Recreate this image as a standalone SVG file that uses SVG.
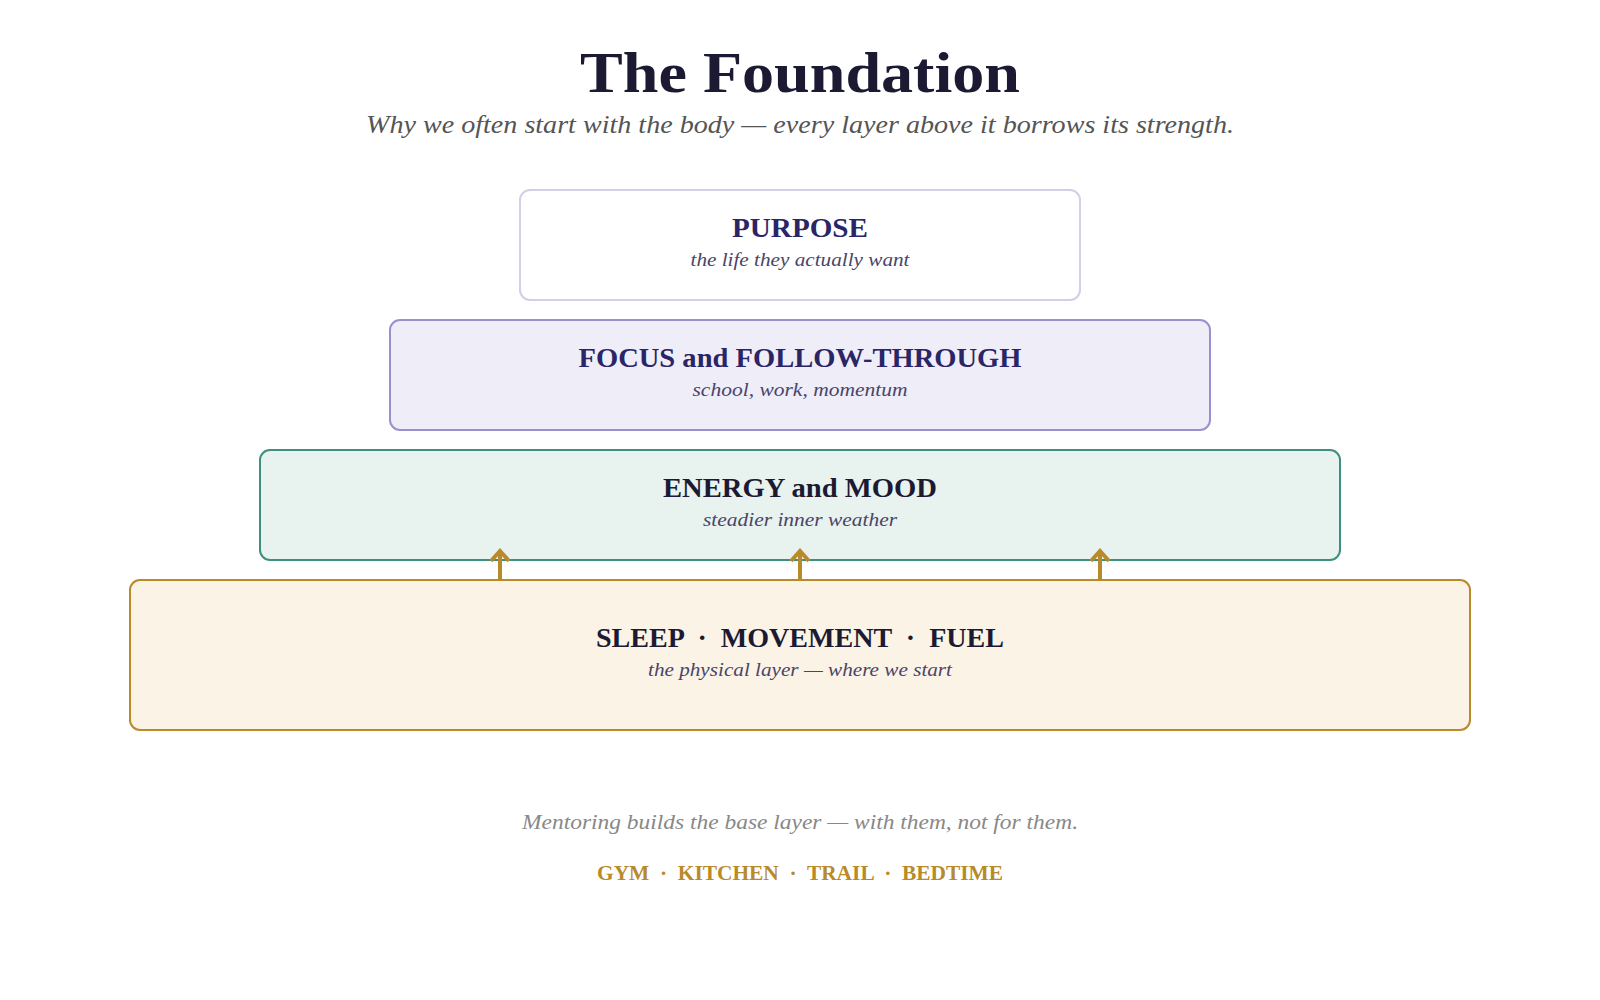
<svg xmlns="http://www.w3.org/2000/svg" width="1600" height="1000" viewBox="0 0 1600 1000">
<defs>
<style>
.bg{fill:#ffffff}
.layer{stroke-width:2}
.ttl{font-family:"Liberation Serif","DejaVu Serif",serif;font-weight:bold;text-anchor:middle}
.sub{font-family:"Liberation Serif","DejaVu Serif",serif;font-style:italic;text-anchor:middle;fill:#4a4568}
.arrow{stroke:#b88a2a;stroke-width:4;fill:none}
</style>
</defs>
<rect class="bg" x="0" y="0" width="1600" height="1000"/>
<g id="header">
<text class="ttl" x="800" y="92" font-size="58" fill="#1c1a33" textLength="440" lengthAdjust="spacingAndGlyphs">The Foundation</text>
<text class="sub" x="800" y="133" font-size="25" style="fill:#555555" textLength="868" lengthAdjust="spacingAndGlyphs">Why we often start with the body — every layer above it borrows its strength.</text>
</g>
<g id="purpose">
<rect class="layer" x="520" y="190" width="560" height="110" rx="10" fill="#ffffff" stroke="#d3cfe9"/>
<text class="ttl" x="800" y="237" font-size="27" fill="#2a2566" textLength="136" lengthAdjust="spacingAndGlyphs">PURPOSE</text>
<text class="sub" x="800" y="266" font-size="19" textLength="219" lengthAdjust="spacingAndGlyphs">the life they actually want</text>
</g>
<g id="focus">
<rect class="layer" x="390" y="320" width="820" height="110" rx="10" fill="#efedf8" stroke="#9b90cd"/>
<text class="ttl" x="800" y="367" font-size="27" fill="#2a2566" textLength="443" lengthAdjust="spacingAndGlyphs">FOCUS and FOLLOW-THROUGH</text>
<text class="sub" x="800" y="396" font-size="19" textLength="215" lengthAdjust="spacingAndGlyphs">school, work, momentum</text>
</g>
<g id="energy">
<rect class="layer" x="260" y="450" width="1080" height="110" rx="10" fill="#e8f2ee" stroke="#3f8f7f"/>
<text class="ttl" x="800" y="497" font-size="27" fill="#1c1a33" textLength="274" lengthAdjust="spacingAndGlyphs">ENERGY and MOOD</text>
<text class="sub" x="800" y="526" font-size="19" textLength="194" lengthAdjust="spacingAndGlyphs">steadier inner weather</text>
</g>
<g id="physical">
<rect class="layer" x="130" y="580" width="1340" height="150" rx="10" fill="#faf3e6" stroke="#b88a2a"/>
<text class="ttl" x="800" y="647" font-size="27" fill="#1c1a33" textLength="408" lengthAdjust="spacingAndGlyphs" xml:space="preserve">SLEEP  ·  MOVEMENT  ·  FUEL</text>
<text class="sub" x="800" y="676" font-size="19" textLength="304" lengthAdjust="spacingAndGlyphs">the physical layer — where we start</text>
</g>
<g id="connectors">
<path class="arrow" d="M500,579 V552 M491,561 L500,551 L509,561"/>
<path class="arrow" d="M800,579 V552 M791,561 L800,551 L809,561"/>
<path class="arrow" d="M1100,579 V552 M1091,561 L1100,551 L1109,561"/>
</g>
<g id="footer">
<text class="sub" x="800" y="829" font-size="21" style="fill:#888888" textLength="556" lengthAdjust="spacingAndGlyphs">Mentoring builds the base layer — with them, not for them.</text>
<text class="ttl" x="800" y="880" font-size="20" fill="#b88a2a" textLength="406" lengthAdjust="spacingAndGlyphs" xml:space="preserve">GYM  ·  KITCHEN  ·  TRAIL  ·  BEDTIME</text>
</g>
</svg>
